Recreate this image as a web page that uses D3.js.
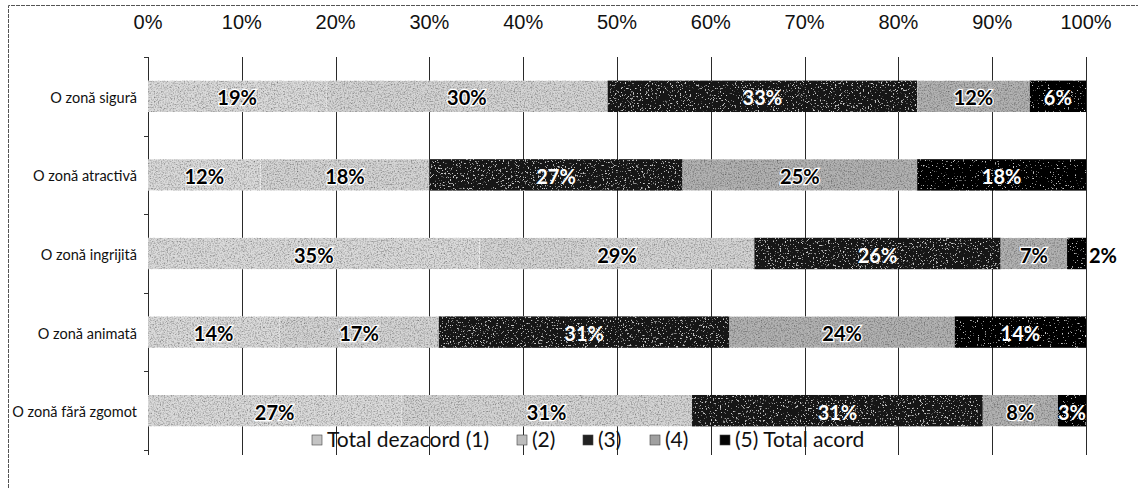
<!DOCTYPE html>
<html><head><meta charset="utf-8">
<script src="https://cdn.jsdelivr.net/npm/d3@7"></script>
<style>body{margin:0;background:#fff}svg{display:block}</style>
</head><body><svg id="c" width="1138" height="488"></svg>
<script>
const categories = ["O zonă sigură","O zonă atractivă","O zonă ingrijită","O zonă animată","O zonă fără zgomot"];
const seriesNames = ["Total dezacord (1)","(2)","(3)","(4)","(5) Total acord"];
const s1 = [19,12,35,14,27];
const s2 = [30,18,29,17,31];
const s3 = [33,27,26,31,31];
const s4 = [12,25,7,24,8];
const s5 = [6,18,2,14,3];
const xTicks = [0,0.1,0.2,0.3,0.4,0.5,0.6,0.7,0.8,0.9,1];

const fills = ["#dadada","#d4d4d4","#141414","#b2b2b2","#050505"];
const legendFills = ["#c4c4c4","#bcbcbc","#222","#a0a0a0","#050505"];
const grain = ["gl","gl","gd","gl","gd2"];
const textFill = ["#000","#000","#fff","#000","#fff"];

const rows = categories.map((c,i)=>({cat:c, "Total dezacord (1)":s1[i], "(2)":s2[i], "(3)":s3[i], "(4)":s4[i], "(5) Total acord":s5[i]}));
const stack = d3.stack().keys(seriesNames).offset(d3.stackOffsetExpand)(rows);

const svg = d3.select("#c");
const defs = svg.append("defs");
{
  const f = defs.append("filter").attr("id","gl").attr("x",0).attr("y",0).attr("width","100%").attr("height","100%");
  f.append("feTurbulence").attr("type","fractalNoise").attr("baseFrequency",0.7).attr("numOctaves",3).attr("seed",5).attr("result","n");
  f.append("feColorMatrix").attr("in","n").attr("type","matrix")
   .attr("values","1.5 0 0 0 0.13  1.5 0 0 0 0.13  1.5 0 0 0 0.13  0 0 0 0 1").attr("result","m");
  f.append("feBlend").attr("in","SourceGraphic").attr("in2","m").attr("mode","multiply").attr("result","b");
  f.append("feComposite").attr("in","b").attr("in2","SourceGraphic").attr("operator","in");
}
[["gd",7,"-5.6"],["gd2",11,"-6.1"]].forEach(([id,seed,off])=>{
  const f = defs.append("filter").attr("id",id).attr("x",0).attr("y",0).attr("width","100%").attr("height","100%");
  f.append("feTurbulence").attr("type","fractalNoise").attr("baseFrequency",0.6).attr("numOctaves",2).attr("seed",seed).attr("result","n");
  f.append("feColorMatrix").attr("in","n").attr("type","matrix")
   .attr("values","0 0 0 0 0.6  0 0 0 0 0.6  0 0 0 0 0.6  9 0 0 0 "+off).attr("result","m");
  f.append("feComposite").attr("in","m").attr("in2","SourceGraphic").attr("operator","in").attr("result","c");
  f.append("feMerge").call(m=>{m.append("feMergeNode").attr("in","SourceGraphic");m.append("feMergeNode").attr("in","c");});
});

svg.append("path").attr("d","M8.5,488 V5.5 H1138").attr("fill","none").attr("stroke","#555").attr("stroke-width",1).attr("stroke-dasharray","4,1");

const x = d3.scaleLinear().domain([0,1]).range([148,1086]);
const y = d3.scaleBand().domain(categories).range([57,450]).paddingInner(0.6).paddingOuter(0.3);
const plotTop = 57, plotBottom = 455;

svg.append("g").selectAll("line").data(xTicks).join("line")
 .attr("x1",d=>Math.round(x(d))+0.5).attr("x2",d=>Math.round(x(d))+0.5)
 .attr("y1",plotTop).attr("y2",plotBottom).attr("stroke","#2a2a2a").attr("stroke-width",1);

svg.append("g").selectAll("text").data(xTicks).join("text")
 .attr("x",d=>x(d)).attr("y",29).attr("text-anchor","middle")
 .attr("font-family","Liberation Sans, Arial, sans-serif").attr("font-size",20).attr("fill","#111")
 .text(d=>d3.format(".0%")(d));

const step = y.step();
const bounds = d3.range(categories.length+1).map(i=>y(categories[0]) - y.paddingOuter()*step + i*step);
svg.append("g").selectAll("line").data(bounds).join("line")
 .attr("x1",144).attr("x2",148).attr("y1",d=>Math.round(d)+0.5).attr("y2",d=>Math.round(d)+0.5).attr("stroke","#333");

const g = svg.append("g");
stack.forEach((ser,si)=>{
  g.append("g").selectAll("rect").data(ser).join("rect")
   .attr("x",d=>x(d[0])).attr("width",d=>x(d[1])-x(d[0]))
   .attr("y",d=>y(d.data.cat)).attr("height",y.bandwidth())
   .attr("fill",fills[si]).attr("filter","url(#"+grain[si]+")");
});
stack.forEach((ser,si)=>{
  const lab = svg.append("g").selectAll("text").data(ser).join("text")
   .attr("font-family","Lato, 'Open Sans', sans-serif").attr("font-size",20).attr("font-weight",700)
   .attr("dominant-baseline","central")
   .attr("y",d=>y(d.data.cat)+y.bandwidth()/2+1)
   .text(d=>d.data[ser.key]+"%");
  lab.each(function(d){
    const w = x(d[1])-x(d[0]);
    const t = d3.select(this);
    if (w < 22) {
      t.attr("x",x(d[1])+3).attr("text-anchor","start").attr("fill","#000");
    } else {
      t.attr("x",(x(d[0])+x(d[1]))/2).attr("text-anchor","middle").attr("fill",textFill[si]);
      if (textFill[si]==="#000") t.attr("stroke","#fff").attr("stroke-width",2.5).attr("paint-order","stroke");
    }
  });
});

svg.append("g").selectAll("text").data(categories).join("text")
 .attr("x",137).attr("y",d=>y(d)+y.bandwidth()/2+1).attr("text-anchor","end").attr("dominant-baseline","central")
 .attr("font-family","Lato, 'Open Sans', sans-serif").attr("font-size",14.5).attr("fill","#111").text(d=>d);

const legX = [312,517,583,650,720];
const lg = svg.append("g");
seriesNames.forEach((n,i)=>{
  lg.append("rect").attr("x",legX[i]).attr("y",435).attr("width",10).attr("height",10).attr("fill",legendFills[i]).attr("stroke","#444").attr("stroke-width",0.6);
  lg.append("text").attr("x",legX[i]+15).attr("y",447)
   .attr("font-family","Lato, 'Open Sans', sans-serif").attr("font-size",21).attr("fill","#111").text(n);
});
</script></body></html>
